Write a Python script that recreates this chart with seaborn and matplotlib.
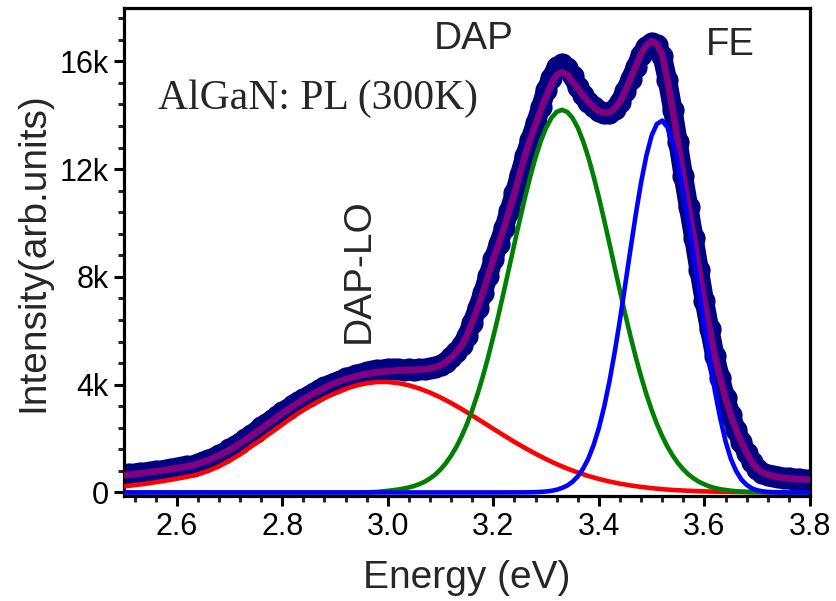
import matplotlib
matplotlib.use("Agg")
import matplotlib.pyplot as plt
import seaborn as sns
from matplotlib.ticker import MultipleLocator, AutoMinorLocator, FuncFormatter

# ---------------- data ----------------
# photon energy grid of the measured spectrum and of the cumulative fit (0.01 eV)
energy_meas = [2.50, 2.51, 2.52, 2.53, 2.54, 2.55, 2.56, 2.57, 2.58, 2.59,
               2.60, 2.61, 2.62, 2.63, 2.64, 2.65, 2.66, 2.67, 2.68, 2.69,
               2.70, 2.71, 2.72, 2.73, 2.74, 2.75, 2.76, 2.77, 2.78, 2.79,
               2.80, 2.81, 2.82, 2.83, 2.84, 2.85, 2.86, 2.87, 2.88, 2.89,
               2.90, 2.91, 2.92, 2.93, 2.94, 2.95, 2.96, 2.97, 2.98, 2.99,
               3.00, 3.01, 3.02, 3.03, 3.04, 3.05, 3.06, 3.07, 3.08, 3.09,
               3.10, 3.11, 3.12, 3.13, 3.14, 3.15, 3.16, 3.17, 3.18, 3.19,
               3.20, 3.21, 3.22, 3.23, 3.24, 3.25, 3.26, 3.27, 3.28, 3.29,
               3.30, 3.31, 3.32, 3.33, 3.34, 3.35, 3.36, 3.37, 3.38, 3.39,
               3.40, 3.41, 3.42, 3.43, 3.44, 3.45, 3.46, 3.47, 3.48, 3.49,
               3.50, 3.51, 3.52, 3.53, 3.54, 3.55, 3.56, 3.57, 3.58, 3.59,
               3.60, 3.61, 3.62, 3.63, 3.64, 3.65, 3.66, 3.67, 3.68, 3.69,
               3.70, 3.71, 3.72, 3.73, 3.74, 3.75, 3.76, 3.77, 3.78, 3.79,
               3.80]
# measured PL intensity
intensity_meas = [660, 680, 700, 730, 740, 770, 790, 810, 850, 870,
                  910, 930, 970, 1000, 1070, 1130, 1210, 1290, 1380, 1480,
                  1600, 1710, 1850, 1970, 2130, 2260, 2420, 2540, 2700, 2820,
                  2970, 3080, 3230, 3340, 3470, 3580, 3700, 3800, 3900, 3990,
                  4080, 4150, 4230, 4280, 4350, 4400, 4460, 4490, 4540, 4560,
                  4580, 4570, 4580, 4560, 4570, 4560, 4580, 4590, 4620, 4660,
                  4740, 4840, 5010, 5200, 5460, 5820, 6300, 6830, 7400, 8020,
                  8650, 9230, 9800, 10450, 11100, 11800, 12500, 13100, 13700, 14300,
                  14950, 15400, 15800, 15900, 15750, 15450, 15050, 14750, 14500, 14300,
                  14150, 14080, 14100, 14250, 14500, 14900, 15350, 15800, 16250, 16550,
                  16700, 16600, 16200, 15300, 14200, 13000, 11750, 10600, 9440, 8250,
                  7100, 6050, 5050, 4250, 3500, 2880, 2330, 1870, 1470, 1130,
                  880, 740, 660, 610, 570, 540, 520, 505, 490, 480,
                  470]
# cumulative fit
fit_total = [650, 665, 680, 700, 720, 750, 780, 810, 840, 870,
             900, 930, 960, 1005, 1060, 1125, 1200, 1280, 1370, 1470,
             1580, 1695, 1820, 1945, 2080, 2220, 2360, 2505, 2650, 2790,
             2930, 3065, 3200, 3325, 3450, 3565, 3680, 3780, 3880, 3970,
             4060, 4130, 4200, 4255, 4310, 4355, 4400, 4430, 4460, 4480,
             4500, 4515, 4530, 4535, 4540, 4550, 4560, 4575, 4600, 4650,
             4720, 4840, 5000, 5200, 5450, 5820, 6300, 6830, 7400, 8020,
             8650, 9230, 9800, 10450, 11100, 11800, 12500, 13100, 13650, 14200,
             14700, 15150, 15500, 15600, 15500, 15250, 15000, 14730, 14500, 14300,
             14150, 14090, 14100, 14250, 14500, 14900, 15350, 15820, 16280, 16600,
             16750, 16650, 16250, 15300, 14200, 13000, 11750, 10600, 9440, 8250,
             7100, 6050, 5050, 4250, 3500, 2880, 2330, 1870, 1470, 1130,
             880, 740, 660, 610, 570, 540, 520, 505, 490, 480,
             470]

# DAP-LO component (red), 0.02 eV grid
energy_dap_lo = [2.50, 2.52, 2.54, 2.56, 2.58, 2.60, 2.62, 2.64, 2.66, 2.68,
                 2.70, 2.72, 2.74, 2.76, 2.78, 2.80, 2.82, 2.84, 2.86, 2.88,
                 2.90, 2.92, 2.94, 2.96, 2.98, 3.00, 3.02, 3.04, 3.06, 3.08,
                 3.10, 3.12, 3.14, 3.16, 3.18, 3.20, 3.22, 3.24, 3.26, 3.28,
                 3.30, 3.32, 3.34, 3.36, 3.38, 3.40, 3.42, 3.44, 3.46, 3.48,
                 3.50, 3.52, 3.54, 3.56, 3.58, 3.60, 3.62, 3.64, 3.66, 3.68,
                 3.70, 3.72, 3.74, 3.76, 3.78, 3.80]
peak_dap_lo = [230, 270, 320, 380, 440, 510, 580, 670, 800, 970,
               1180, 1410, 1700, 1960, 2240, 2520, 2800, 3060, 3290, 3500,
               3680, 3840, 3970, 4050, 4100, 4100, 4055, 3975, 3855, 3705,
               3525, 3320, 3095, 2855, 2610, 2360, 2115, 1875, 1650, 1435,
               1235, 1050, 885, 740, 610, 500, 405, 325, 260, 205,
               160, 120, 93, 71, 53, 39, 29, 21, 15, 11,
               8, 5, 4, 3, 2, 1]

# DAP component (green)
energy_dap = [2.50, 2.94, 2.95, 2.96, 2.97, 2.98, 2.99,
              3.00, 3.01, 3.02, 3.03, 3.04, 3.05, 3.06, 3.07, 3.08, 3.09,
              3.10, 3.11, 3.12, 3.13, 3.14, 3.15, 3.16, 3.17, 3.18, 3.19,
              3.20, 3.21, 3.22, 3.23, 3.24, 3.25, 3.26, 3.27, 3.28, 3.29,
              3.30, 3.31, 3.32, 3.33, 3.34, 3.35, 3.36, 3.37, 3.38, 3.39,
              3.40, 3.41, 3.42, 3.43, 3.44, 3.45, 3.46, 3.47, 3.48, 3.49,
              3.50, 3.51, 3.52, 3.53, 3.54, 3.55, 3.56, 3.57, 3.58, 3.59,
              3.60, 3.61, 3.62, 3.63, 3.64, 3.65, 3.66, 3.67, 3.68, 3.69,
              3.70, 3.71, 3.72, 3.73, 3.74, 3.75, 3.76, 3.80]
peak_dap = [0, 0, 2, 5, 10, 20, 40,
            60, 85, 110, 145, 185, 240, 310, 400, 520, 665,
            855, 1085, 1365, 1695, 2090, 2539, 3060, 3644, 4300, 5013,
            5790, 6607, 7470, 8347, 9240, 10108, 10950, 11728, 12440, 13043,
            13537, 13900, 14125, 14200, 14125, 13900, 13537, 13043, 12440, 11728,
            10950, 10108, 9240, 8347, 7470, 6607, 5790, 5013, 4300, 3644,
            3060, 2539, 2090, 1695, 1365, 1085, 855, 665, 515, 391,
            300, 220, 165, 119, 90, 65, 45, 32, 22, 15,
            10, 7, 4, 3, 2, 1, 0, 0]

# FE component (blue)
energy_fe = [2.50, 3.20,
             3.26, 3.27, 3.28, 3.29, 3.30, 3.31, 3.32, 3.33, 3.34, 3.35,
             3.36, 3.37, 3.38, 3.39, 3.40, 3.41, 3.42, 3.43, 3.44, 3.45,
             3.46, 3.47, 3.48, 3.49, 3.50, 3.51, 3.52, 3.53, 3.54, 3.55,
             3.56, 3.57, 3.58, 3.59, 3.60, 3.61, 3.62, 3.63, 3.64, 3.65,
             3.66, 3.67, 3.68, 3.69, 3.70, 3.71, 3.72, 3.73, 3.74, 3.75,
             3.76, 3.80]
peak_fe = [0, 0,
           3, 6, 10, 20, 35, 60, 100, 165, 255, 395,
           595, 880, 1255, 1760, 2390, 3180, 4120, 5210, 6420, 7720,
           9040, 10330, 11510, 12500, 13250, 13680, 13800, 13550, 13000, 12200,
           11150, 9980, 8750, 7450, 6150, 4900, 3750, 2750, 1900, 1250,
           800, 480, 280, 150, 80, 40, 20, 10, 5, 2,
           0, 0]

x_ticks = [2.6, 2.8, 3.0, 3.2, 3.4, 3.6, 3.8]
y_ticks = [0, 4000, 8000, 12000, 16000]

# ---------------- style ----------------
sns.set_theme(style="ticks")
plt.rcParams["font.family"] = ["Liberation Sans", "DejaVu Sans"]

NAVY = "#000080"
PURPLE = "#800080"

fig = plt.figure(figsize=(8.37, 6.01), dpi=100)
ax = fig.add_axes([0.1481, 0.1739, 0.8196, 0.8123])

# measured data: thick navy band of circles
sns.lineplot(x=energy_meas, y=intensity_meas, ax=ax, color=NAVY, lw=14,
             solid_capstyle="round", solid_joinstyle="round",
             marker="o", markersize=15, markerfacecolor=NAVY,
             markeredgecolor=NAVY, markeredgewidth=1.0,
             sort=False, estimator=None, zorder=2)
# cumulative fit
sns.lineplot(x=energy_meas, y=fit_total, ax=ax, color=PURPLE, lw=4.8,
             sort=False, estimator=None, zorder=3)
# components
sns.lineplot(x=energy_dap_lo, y=peak_dap_lo, ax=ax, color="#FF0000", lw=3.3,
             sort=False, estimator=None, zorder=4)
sns.lineplot(x=energy_dap, y=peak_dap, ax=ax, color="#008000", lw=3.3,
             sort=False, estimator=None, zorder=4)
sns.lineplot(x=energy_fe, y=peak_fe, ax=ax, color="#0000FF", lw=3.3,
             sort=False, estimator=None, zorder=5)

ax.set_xlim(2.5, 3.8)
ax.set_ylim(-150, 17970)
ax.set_xticks(x_ticks)
ax.set_xticklabels([f"{v:.1f}" for v in x_ticks])
ax.set_yticks(y_ticks)
ax.yaxis.set_major_formatter(FuncFormatter(lambda v, p: "0" if v == 0 else f"{int(v/1000)}k"))
ax.xaxis.set_minor_locator(MultipleLocator(0.04))
ax.yaxis.set_minor_locator(AutoMinorLocator(5))

for s in ax.spines.values():
    s.set_linewidth(2.3)
    s.set_color("black")
    s.set_visible(True)

ax.tick_params(which="major", direction="out", length=7.5, width=2.2,
               labelsize=22, pad=3.5, colors="black", top=False, right=False)
ax.tick_params(which="minor", direction="out", length=4, width=2.2,
               top=False, right=False)

ax.set_xlabel("Energy (eV)", fontsize=28, labelpad=13)
ax.set_ylabel("Intensity(arb.units)", fontsize=28, labelpad=6)

ax.text(2.5646, 14232, "AlGaN: PL (300K)", fontsize=30,
        family=["Liberation Serif", "DejaVu Serif"], ha="left", va="baseline")
ax.text(3.163, 16460, "DAP", fontsize=28, ha="center", va="baseline")
ax.text(3.649, 16235, "FE", fontsize=27.5, ha="center", va="baseline")
ax.text(2.944, 8215, "DAP-LO", fontsize=28, rotation=90, ha="center", va="center")

ax.grid(False)
fig.savefig("out.png", dpi=100)
